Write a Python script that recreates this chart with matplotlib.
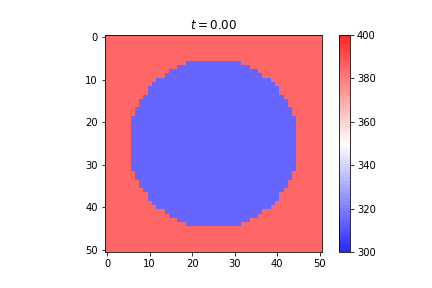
import numpy as np
import matplotlib
matplotlib.use('Agg')
import matplotlib.pyplot as plt

# 网格大小和温度
nx = 51
ny = 51
t_now = 0.00
T_inner = 320
T_outer = 380
Tmin = 300
Tmax = 400

# 圆盘每一行的半宽 (行 6..44, 中心列 25)
disk_rows = list(range(6, 45))
disk_halfwidth = [6, 8, 10, 11, 13, 14, 15, 15, 16, 17, 17, 18, 18, 19, 19,
                  19, 19, 19, 19, 19, 19, 19, 19, 19,
                  19, 19, 18, 18, 17, 17, 16, 15, 15, 14, 13, 11, 10, 8, 6]
center_col = 25

u = np.full((ny, nx), float(T_outer))
for row, hw in zip(disk_rows, disk_halfwidth):
    u[row, center_col - hw:center_col + hw + 1] = T_inner

W, H = 432.0, 288.0
fig = plt.figure(figsize=(6, 4), dpi=72)
# 图像和颜色条的位置 (像素换算)
ax = fig.add_axes([104.3 / W, 36 / H, 218.2 / W, 217 / H])
cax = fig.add_axes([339 / W, 36 / H, 10.8 / W, 217 / H])

im = ax.imshow(u, cmap=plt.get_cmap('bwr'), vmin=Tmin, vmax=Tmax)
ax.set_title('$t = {:.2f}$'.format(t_now))
cb = fig.colorbar(im, cax=cax, boundaries=np.linspace(Tmin, Tmax, 65))
cb.set_ticks([300, 320, 340, 360, 380, 400])
cb.solids.set_antialiased(True)
cb.solids.set_rasterized(False)
cb.solids.set_alpha(0.85)

plt.savefig('out.png')
